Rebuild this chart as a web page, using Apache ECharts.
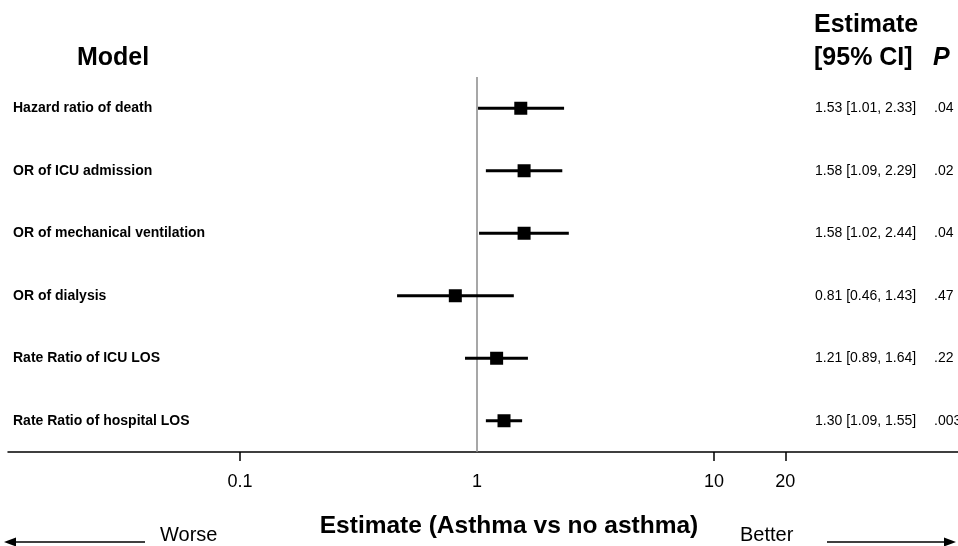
<!DOCTYPE html>
<html>
<head>
<meta charset="utf-8">
<script src="https://cdn.jsdelivr.net/npm/echarts@6/dist/echarts.min.js"></script>
<style>
  html, body { margin: 0; padding: 0; background: #fff; }
  #chart { width: 958px; height: 546px; }
</style>
</head>
<body>
<div id="chart"></div>
<script>
// rows, top to bottom
var models = ['Hazard ratio of death', 'OR of ICU admission', 'OR of mechanical ventilation',
  'OR of dialysis', 'Rate Ratio of ICU LOS', 'Rate Ratio of hospital LOS'];
var estimates = [1.53, 1.58, 1.58, 0.81, 1.21, 1.30];
var lower = [1.01, 1.09, 1.02, 0.46, 0.89, 1.09];
var upper = [2.33, 2.29, 2.44, 1.43, 1.64, 1.55];
var pValues = ['.04', '.02', '.04', '.47', '.22', '.003'];
var tickValues = [0.1, 1, 10, 20];

var FONT = '"Liberation Sans", Arial, sans-serif';

function fmt(v) { return v.toFixed(2); }

var ciData = models.map(function (m, i) { return [lower[i], upper[i], i]; });
var pointData = models.map(function (m, i) { return [estimates[i], i]; });

var chart = echarts.init(document.getElementById('chart'));

var option = {
  animation: false,
  backgroundColor: '#fff',
  textStyle: { fontFamily: FONT, color: '#000' },
  grid: { left: 8, right: 0, top: 77, bottom: 94, containLabel: false, outerBoundsMode: 'none' },
  xAxis: {
    type: 'log',
    logBase: 10,
    min: 0.0105,
    max: 107,
    name: 'Estimate (Asthma vs no asthma)',
    nameLocation: 'middle',
    nameGap: 62,
    nameTextStyle: { fontFamily: FONT, fontWeight: 'bold', fontSize: 24.5, color: '#000', padding: [0, 0, 0, 52] },
    axisLine: { show: true, lineStyle: { color: '#000', width: 1.5 } },
    axisTick: { show: true, length: 9, lineStyle: { color: '#000', width: 1.5 }, customValues: [0.1, 10, 20] },
    axisLabel: {
      fontFamily: FONT, fontSize: 18, color: '#000', margin: 21,
      customValues: tickValues,
      formatter: function (v) { return String(+(+v).toPrecision(3)); }
    },
    splitLine: { show: false }
  },
  yAxis: [{
    type: 'category',
    data: models,
    inverse: true,
    axisLine: { show: false },
    axisTick: { show: false },
    axisLabel: { inside: true, margin: 5, fontFamily: FONT, fontWeight: 'bold', fontSize: 14, color: '#000' },
    splitLine: { show: false }
  }, {
    type: 'category',
    data: models,
    inverse: true,
    position: 'right',
    axisLine: { show: false },
    axisTick: { show: false },
    axisLabel: {
      inside: true,
      margin: 143,
      align: 'left',
      formatter: function (v, i) {
        return '{e|' + fmt(estimates[i]) + ' [' + fmt(lower[i]) + ', ' + fmt(upper[i]) + ']}{p|' + pValues[i] + '}';
      },
      rich: {
        e: { fontFamily: FONT, fontSize: 14, color: '#000', width: 119 },
        p: { fontFamily: FONT, fontSize: 14, color: '#000' }
      }
    },
    splitLine: { show: false }
  }],
  series: [{
    type: 'custom',
    name: 'CI',
    data: ciData,
    encode: { x: [0, 1], y: 2 },
    renderItem: function (params, api) {
      var a = api.coord([api.value(0), api.value(2)]);
      var b = api.coord([api.value(1), api.value(2)]);
      return {
        type: 'line',
        shape: { x1: a[0], y1: a[1], x2: b[0], y2: b[1] },
        style: { stroke: '#000', lineWidth: 3 }
      };
    },
    z: 3
  }, {
    type: 'scatter',
    name: 'Estimate',
    data: pointData,
    symbol: 'rect',
    symbolSize: 13,
    itemStyle: { color: '#000', opacity: 1 },
    z: 4,
    markLine: {
      silent: true,
      symbol: ['none', 'none'],
      label: { show: false },
      lineStyle: { color: '#8a8a8a', width: 1.5, type: 'solid' },
      data: [{ xAxis: 1 }],
      z: 2
    }
  }],
  graphic: [
    { type: 'text', left: 77, top: 46, style: { text: 'Model', font: 'bold 25px ' + FONT, fill: '#000' } },
    { type: 'text', left: 814, top: 13, style: { text: 'Estimate', font: 'bold 25px ' + FONT, fill: '#000' } },
    { type: 'text', left: 814, top: 46, style: { text: '[95% CI]', font: 'bold 25px ' + FONT, fill: '#000' } },
    { type: 'text', left: 933, top: 46, style: { text: 'P', font: 'italic bold 25px ' + FONT, fill: '#000' } },
    { type: 'text', left: 160, top: 525, style: { text: 'Worse', font: '20px ' + FONT, fill: '#000' } },
    { type: 'text', left: 740, top: 525, style: { text: 'Better', font: '20px ' + FONT, fill: '#000' } },
    { type: 'line', shape: { x1: 145, y1: 542, x2: 14, y2: 542 }, style: { stroke: '#000', lineWidth: 1.5 } },
    { type: 'polygon', shape: { points: [[4, 542], [16, 537.5], [16, 546.5]] }, style: { fill: '#000' } },
    { type: 'line', shape: { x1: 827, y1: 542, x2: 946, y2: 542 }, style: { stroke: '#000', lineWidth: 1.5 } },
    { type: 'polygon', shape: { points: [[956, 542], [944, 537.5], [944, 546.5]] }, style: { fill: '#000' } }
  ]
};

chart.setOption(option);
</script>
</body>
</html>
